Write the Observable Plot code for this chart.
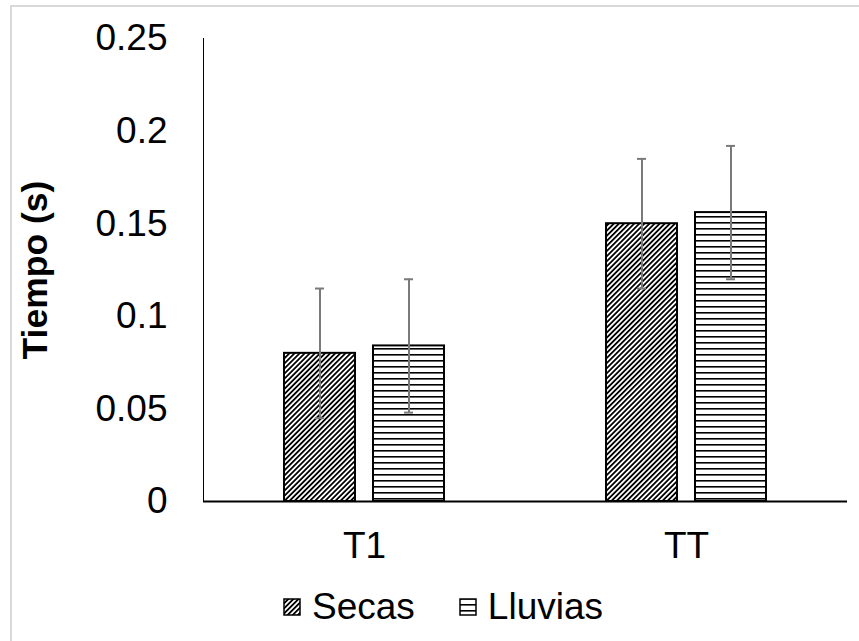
<!DOCTYPE html>
<html>
<head>
<meta charset="utf-8">
<script src="https://cdn.jsdelivr.net/npm/d3@7"></script>
<script src="https://cdn.jsdelivr.net/npm/@observablehq/plot@0.6"></script>
<style>
  html, body { margin: 0; padding: 0; background: #fff; }
  body { width: 859px; height: 641px; position: relative; overflow: hidden; font-family: "Liberation Sans", Arial, sans-serif; }
  #frame { position: absolute; left: 10px; top: 5px; width: 900px; height: 700px; border: 2px solid #d9d9d9; box-sizing: border-box; }
  #chart { position: absolute; left: 0; top: 0; }
  #chart [aria-label="y-axis label"] text, #chart [aria-label="y-axis label"] { font-weight: bold; font-size: 35.5px; }
  #legend { position: absolute; left: 283px; top: 586px; display: flex; gap: 44px; font-size: 37px; color: #000; }
  .item { display: flex; align-items: center; gap: 11px; }
  .item svg { display: block; }
</style>
</head>
<body>
<div id="frame"></div>
<svg width="0" height="0" style="position:absolute">
  <defs>
    <pattern id="hatch-secas" patternUnits="userSpaceOnUse" width="3.6" height="3.6" patternTransform="rotate(45)">
      <rect width="3.6" height="3.6" fill="#fff"></rect>
      <rect width="1.8" height="3.6" fill="#000"></rect>
    </pattern>
    <pattern id="hatch-lluvias" patternUnits="userSpaceOnUse" width="6" height="6">
      <rect width="6" height="6" fill="#fff"></rect>
      <rect y="0" width="6" height="1.6" fill="#000"></rect>
    </pattern>
  </defs>
</svg>
<div id="chart"></div>
<div id="legend"></div>
<script>
// Mean response time per treatment and season, with standard deviation
const categories = ["T1", "TT"];
const series = ["Secas", "Lluvias"];
const secas = [0.080, 0.150];
const lluvias = [0.084, 0.156];
const secasErr = [0.035, 0.035];
const lluviasErr = [0.036, 0.036];
const yTicks = [0, 0.05, 0.1, 0.15, 0.2, 0.25];
const yTickLabels = ["0", "0.05", "0.1", "0.15", "0.2", "0.25"];

const fills = {Secas: "url(#hatch-secas)", Lluvias: "url(#hatch-lluvias)"};

const rows = [];
categories.forEach((c, i) => {
  rows.push({cat: c, serie: "Secas", v: secas[i], e: secasErr[i]});
  rows.push({cat: c, serie: "Lluvias", v: lluvias[i], e: lluviasErr[i]});
});

const plot = Plot.plot({
  width: 859,
  height: 575,
  marginLeft: 203,
  marginRight: 12,
  marginTop: 38,
  marginBottom: 74,
  style: {fontFamily: "Liberation Sans, Arial, sans-serif", fontSize: "37px", color: "#000", background: "transparent"},
  fx: {domain: categories, padding: 0, label: null, tickSize: 0, tickPadding: 30},
  x: {domain: series, paddingInner: 0.2, paddingOuter: 0.889, axis: null},
  y: {
    domain: [0, 0.25],
    ticks: yTicks,
    tickFormat: (d) => yTickLabels[yTicks.indexOf(d)],
    tickSize: 0,
    tickPadding: 36,
    line: true,
    label: "Tiempo (s)",
    labelAnchor: "center",
    labelArrow: "none",
    labelOffset: 182
  },
  color: {type: "identity"},
  marks: [
    Plot.barY(rows, {fx: "cat", x: "serie", y: "v", fill: (d) => fills[d.serie], stroke: "#000", strokeWidth: 2}),
    Plot.ruleY([0], {stroke: "#000", strokeWidth: 2}),
    Plot.ruleX(rows, {fx: "cat", x: "serie", y1: (d) => d.v - d.e, y2: (d) => d.v + d.e, stroke: "#7a7a7a", strokeWidth: 2}),
    Plot.tickY(rows, {fx: "cat", x: "serie", y: (d) => d.v + d.e, stroke: "#7a7a7a", strokeWidth: 2, insetLeft: 31, insetRight: 31}),
    Plot.tickY(rows, {fx: "cat", x: "serie", y: (d) => d.v - d.e, stroke: "#7a7a7a", strokeWidth: 2, insetLeft: 31, insetRight: 31})
  ]
});
document.getElementById("chart").appendChild(plot);

// Legend below the chart
const legend = document.getElementById("legend");
series.forEach((s) => {
  const item = document.createElement("div");
  item.className = "item";
  const sw = d3.create("svg").attr("width", 18).attr("height", 18);
  sw.append("rect").attr("x", 1).attr("y", 1).attr("width", 16).attr("height", 16)
    .attr("fill", fills[s]).attr("stroke", "#000").attr("stroke-width", 1.5);
  item.appendChild(sw.node());
  const label = document.createElement("span");
  label.textContent = s;
  item.appendChild(label);
  legend.appendChild(item);
});
</script>
</body>
</html>
